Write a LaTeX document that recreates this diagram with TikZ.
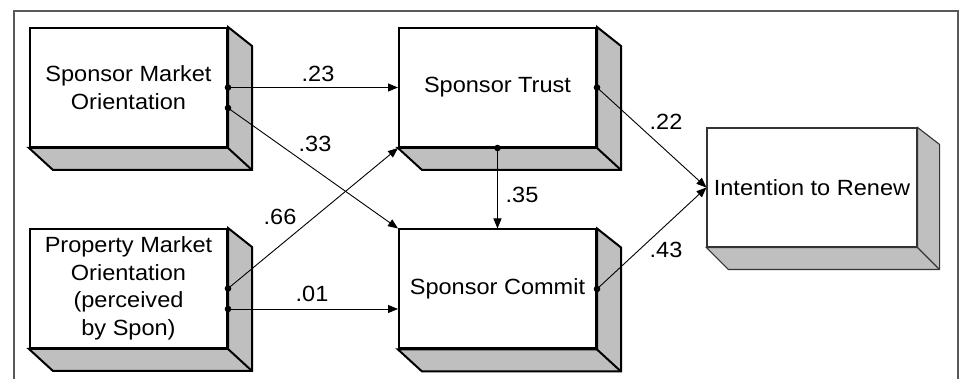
\documentclass[tikz,border=0pt]{standalone}
\usepackage{fontspec}
\setmainfont[FakeStretch=1.07]{Liberation Sans}
\usetikzlibrary{calc,arrows.meta}

\newcommand\diagfont{\fontsize{22}{27.5}\selectfont}

% grey side and bottom faces behind a front node
% #1 node name, #2 depth in x, #3 drop at top, #4 drop at bottom, #5 style
\newcommand\depthfaces[5]{%
  \filldraw[#5] (#1.north east) -- ++(#2,#3)
      -- ($(#1.south east)+(#2,#4)$) -- ($(#1.south west)+(#2,#4)$)
      -- (#1.south west) -- (#1.south east) -- cycle;
  \draw[#5] (#1.south east) -- ++(#2,#4);}

\tikzset{
  front/.style={draw=black, line width=2pt, fill=white, inner sep=0pt,
    minimum width=197pt, minimum height=119pt, align=center, font=\diagfont},
  thinfront/.style={front, draw=black!80, line width=1.1pt,
    minimum width=210pt},
  side/.style={draw=black, line width=2pt, fill=black!25},
  thinside/.style={draw=black!80, line width=1.1pt, fill=black!25},
  conn/.style={line width=0.9pt, -{Triangle[length=10pt,width=8pt]}},
  dot/.style={fill=black},
  lbl/.style={inner sep=0pt, font=\diagfont},
  frame/.style={draw=black!65, line width=1.5pt}
}

\begin{document}
\begin{tikzpicture}[x=1pt, y=-1pt, line join=miter]
\useasboundingbox (0,0) rectangle (962,379);
\fill[white] (0,0) rectangle (962,379);

% open frame
\draw[frame] (14,379) -- (14,11) -- (958,11) -- (958,379);

% boxes
\node[front] (smo) at (128.5,87.5) {Sponsor Market\\Orientation};
\depthfaces{smo}{24}{19}{22}{side}
\node[front] (pmo) at (128.5,288.5) {Property Market\\Orientation\\(perceived\\by Spon)};
\depthfaces{pmo}{24}{19}{22}{side}
\node[front] (trust) at (497.5,87.5) {Sponsor Trust};
\depthfaces{trust}{24}{19}{22}{side}
\node[front] (commit) at (497.5,289) {Sponsor Commit};
\depthfaces{commit}{24}{19}{22}{side}
\node[thinfront] (intent) at (812,187.5) {Intention to Renew};
\depthfaces{intent}{22}{17}{22}{thinside}

% connector start points
\coordinate (smoA) at (smo.east);
\coordinate (smoB) at ($(smo.east)+(0,20.5)$);
\coordinate (pmoA) at (pmo.east);
\coordinate (pmoB) at ($(pmo.east)+(0,20.5)$);
\coordinate (trustS) at (trust.south);
\coordinate (trustE) at (trust.east);
\coordinate (commitE) at (commit.east);

% paths
\draw[conn] (smoA) -- (trust.west);
\draw[conn] (smoB) -- (commit.north west);
\draw[conn] (pmoA) -- (trust.south west);
\draw[conn] (pmoB) -- (pmoB -| commit.west);
\draw[conn] (trustS) -- (commit.north);
\draw[conn] (trustE) -- (intent.west);
\draw[conn] (commitE) -- (intent.west);

\foreach \p in {smoA,smoB,pmoA,pmoB,trustS,trustE,commitE}
  \fill[dot] (\p) circle (3.3pt);

% path coefficients
\node[lbl] (c23) at (318,74) {.23};
\node[lbl] (c33) at (315,144) {.33};
\node[lbl] (c66) at (280,217) {.66};
\node[lbl] (c01) at (312,294) {.01};
\node[lbl] (c35) at (522,195) {.35};
\node[lbl] (c22) at (666,122) {.22};
\node[lbl] (c43) at (666,250) {.43};
\end{tikzpicture}
\end{document}
